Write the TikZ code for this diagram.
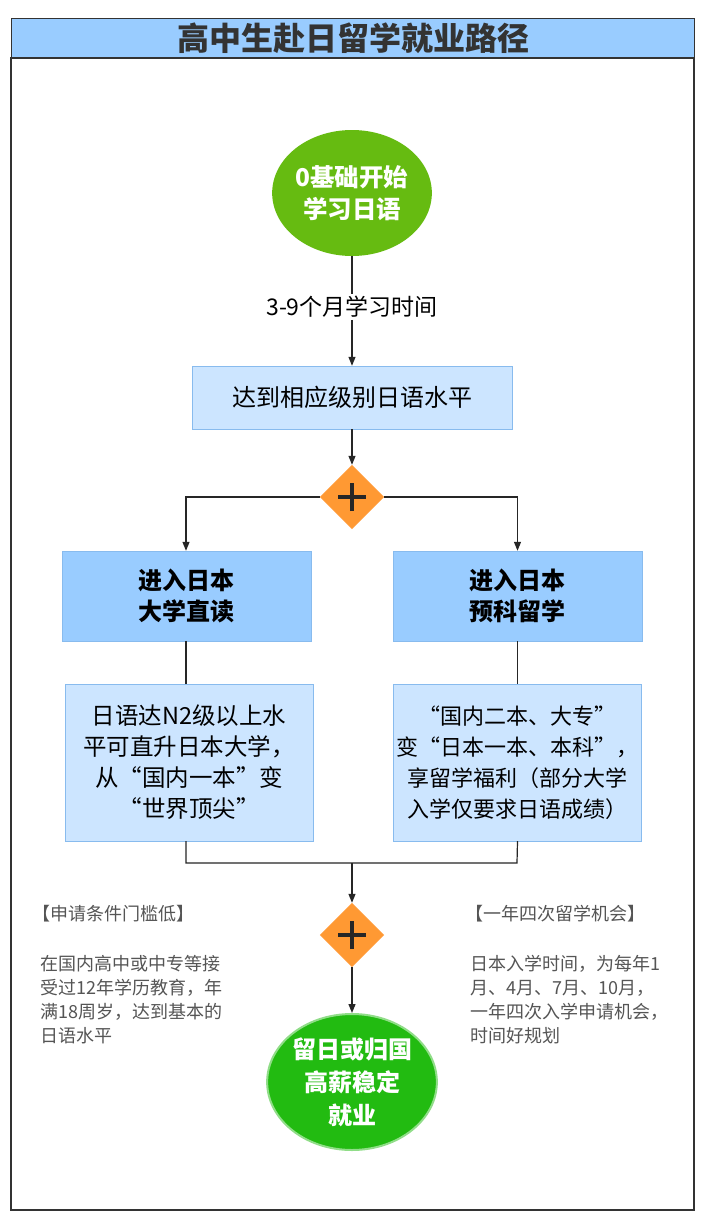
\documentclass[tikz,border=0pt]{standalone}
\usepackage{fontspec}
\setmainfont{Noto Sans CJK SC}
\usetikzlibrary{shapes.geometric,arrows.meta}
\definecolor{bluehd}{HTML}{99CCFF}
\definecolor{bluelt}{HTML}{CCE5FF}
\definecolor{blueln}{HTML}{88BBEE}
\definecolor{gA}{HTML}{66BB11}
\definecolor{gB}{HTML}{22BB11}
\definecolor{org}{HTML}{FF9933}
\definecolor{gtxt}{HTML}{555555}
\begin{document}
\begin{tikzpicture}[x=1pt,y=-1pt,
  conn/.style={draw=black!85,line width=1.2pt},
  arr/.style={conn,-{Triangle[length=9pt,width=7pt]}},
  hbox/.style={draw=blueln,fill=bluehd,minimum width=249pt,minimum height=90pt,font=\fontsize{24}{31}\selectfont\bfseries,align=center,inner sep=0pt},
  tbox/.style={draw=blueln,fill=bluelt,minimum width=248pt,minimum height=157pt,font=\fontsize{23.5}{31}\selectfont,align=center,inner sep=0pt},
  gate/.style={diamond,fill=org,draw=org!80!white,minimum width=64pt,minimum height=64pt,inner sep=0pt},
  side/.style={text=gtxt,font=\fontsize{18}{24}\selectfont,align=left,anchor=north west,inner sep=0pt}]
\useasboundingbox (0,0) rectangle (709,1226);
\fill[white] (0,0) rectangle (709,1226);
\node[draw=black!80,line width=1.2pt,fill=bluehd,minimum width=683pt,minimum height=40pt,anchor=north west,inner sep=0pt,font=\fontsize{32}{34}\selectfont\bfseries,text=black!80] (title) at (11,18) {高中生赴日留学就业路径};
\draw[black!80,line width=1.2pt] (11,58) rectangle (694,1210);
\node[ellipse,fill=gA,minimum width=134pt,minimum height=126pt,inner sep=0pt,text=white,font=\fontsize{24.5}{32}\selectfont\bfseries,align=center] (start) at (352,193) {0基础开始\\学习日语};
\node[draw=blueln,fill=bluelt,minimum width=320pt,minimum height=63pt,inner sep=0pt,font=\fontsize{24}{28}\selectfont] (lvl) at (352,397.5) {达到相应级别日语水平};
\node[font=\fontsize{23}{28}\selectfont,fill=white,inner sep=2pt] (lbl) at (352,307) {3-9个月学习时间};
\node[gate] (g1) at (352,497) {};
\node[hbox] (ha) at (186.5,596) {进入日本\\大学直读};
\node[hbox] (hb) at (517.5,596) {进入日本\\预科留学};
\node[tbox] (ta) at (189,762.5) {日语达N2级以上水\\平可直升日本大学，\\从“国内一本”变\\“世界顶尖”};
\node[tbox,text width=246pt,font=\fontsize{22}{31}\selectfont] (tb) at (517.5,762.5) {“国内二本、大专”\\变“日本一本、本科”，\\享留学福利（部分大学\\入学仅要求日语成绩）};
\node[gate] (g2) at (352,935) {};
\node[ellipse,fill=gB,draw=gB!50!white,line width=2pt,minimum width=162pt,minimum height=136pt,inner sep=0pt,text=white,font=\fontsize{24}{33}\selectfont\bfseries,align=center] (end) at (352,1082) {留日或归国\\高薪稳定\\就业};
\coordinate (ja) at (186,863);
\coordinate (jb) at (517,863);
\coordinate (jm) at (352,863);
\draw[conn] (start.south) -- (lbl.north);
\draw[arr] (lbl.south) -- (lvl.north);
\draw[arr] (lvl.south) -- (g1.north);
\draw[arr] (g1.west) -| (ha.north -| 186,0);
\draw[arr] (g1.east) -| (hb.north);
\draw[conn] (ha.south -| 186,0) -- (ta.north -| 186,0);
\draw[conn] (hb.south) -- (tb.north);
\draw[conn] (ta.south -| 186,0) -- (ja) -- (jb) -- (tb.south);
\draw[arr] (jm) -- (g2.north);
\draw[arr] (g2.south) -- (end.north);
\foreach \g in {g1,g2}{
  \draw[black!85,line width=4pt] ([xshift=-14pt]\g.center) -- ([xshift=14pt]\g.center);
  \draw[black!85,line width=4pt] ([yshift=-14pt]\g.center) -- ([yshift=14pt]\g.center);
}
\node[side] (sa) at (32,905) {【申请条件门槛低】};
\node[side] (sb) at (40,955) {在国内高中或中专等接\\受过12年学历教育，年\\满18周岁，达到基本的\\日语水平};
\node[side] (sc) at (465,905) {【一年四次留学机会】};
\node[side] (sd) at (470,955) {日本入学时间，为每年1\\月、4月、7月、10月，\\一年四次入学申请机会，\\时间好规划};
\end{tikzpicture}
\end{document}
